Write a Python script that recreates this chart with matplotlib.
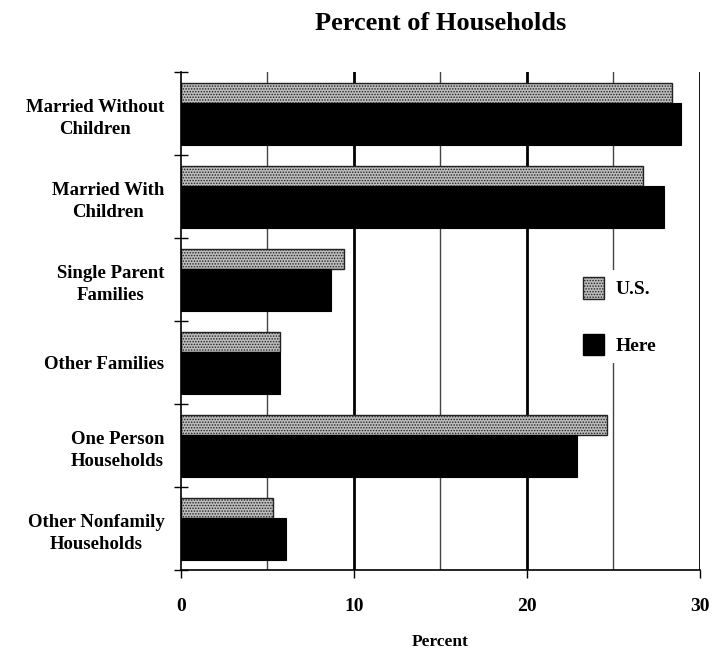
import matplotlib
matplotlib.use("Agg")
import matplotlib.pyplot as plt
from matplotlib.patches import Patch

categories = ["Married Without\nChildren", "Married With\nChildren", "Single Parent\nFamilies",
              "Other Families", "One Person\nHouseholds", "Other Nonfamily\nHouseholds"]
us = [28.4, 26.7, 9.4, 5.7, 24.6, 5.3]
here = [28.9, 27.9, 8.7, 5.7, 22.9, 6.1]
xticks = [0, 10, 20, 30]

plt.rcParams['font.family'] = ['Liberation Serif', 'DejaVu Serif']
plt.rcParams['hatch.color'] = '#6a6a6a'
plt.rcParams['hatch.linewidth'] = 0.7

fig = plt.figure(figsize=(7.23, 6.51), dpi=100)
ax = fig.add_axes([0.2503, 0.1244, 0.7178, 0.7650])

# gridlines: thin at 5, 15, 25; heavy at 10, 20, 30
for g in [5, 15, 25]:
    ax.axvline(g, color="#444444", lw=1.0, zorder=0)
for g in [10, 20, 30]:
    ax.axvline(g, color="black", lw=2.0, zorder=0)

ypos = list(range(len(categories)))
ax.barh([y - 0.25 for y in ypos], us, height=0.24, color="#bcbcbc",
        edgecolor="#222222", lw=1.0, hatch="......", zorder=2)
ax.barh([y + 0.125 for y in ypos], here, height=0.51, color="black",
        edgecolor="black", lw=0.8, zorder=3)

ax.set_xlim(0, 30)
ax.set_ylim(len(categories) - 0.5, -0.5)
ax.set_xticks(xticks)
ax.set_xticklabels([str(t) for t in xticks], fontsize=14, fontweight="bold")
ax.tick_params(axis="x", direction="out", length=6, width=1, pad=14)
ax.set_yticks(ypos)
ax.set_yticklabels(categories, fontsize=13.5, fontweight="bold")
for lbl in ax.get_yticklabels():
    lbl.set_multialignment("center")
    lbl.set_linespacing(1.45)
ax.tick_params(axis="y", which="major", length=0, pad=12)
ax.set_yticks([y - 0.5 for y in range(len(categories) + 1)], minor=True)
ax.tick_params(axis="y", which="minor", direction="inout", length=10, width=1)

for s in ["top", "right"]:
    ax.spines[s].set_visible(False)
ax.spines["left"].set_linewidth(1.2)
ax.spines["bottom"].set_linewidth(1.2)

ax.set_xlabel("Percent", fontsize=12.5, fontweight="bold", labelpad=14)
ax.set_title("Percent of Households", fontsize=19, fontweight="bold", pad=30)

handles = [Patch(facecolor="#bcbcbc", edgecolor="#222222", hatch="......", label="U.S."),
           Patch(facecolor="black", edgecolor="black", label="Here")]
ax.legend(handles=handles, loc="center left", bbox_to_anchor=(0.74, 0.51), frameon=True,
          facecolor="white", edgecolor="none", framealpha=1,
          handlelength=1.1, handleheight=1.3, labelspacing=1.8, handletextpad=0.6,
          prop={"size": 14, "weight": "bold"})

fig.savefig("out.png", dpi=100)
